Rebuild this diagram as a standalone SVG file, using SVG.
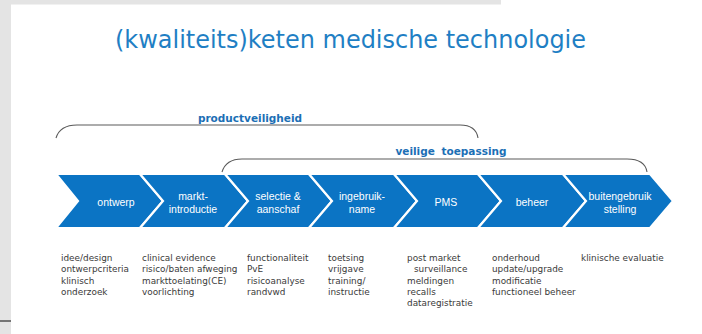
<svg xmlns="http://www.w3.org/2000/svg" width="702" height="334" viewBox="0 0 702 334">
<style>
.chev{fill:#0b74c4;stroke:#ffffff;stroke-width:2.2;stroke-linejoin:miter}
.lbl{font-family:"Liberation Sans",Arial,sans-serif;font-size:10.5px;fill:#ffffff;text-anchor:middle}
.note{font-family:"DejaVu Sans",Verdana,sans-serif;font-size:8.9px;fill:#3a3a3a}
.brk{fill:none;stroke:#5a5a5a;stroke-width:1.1}
.blbl{font-family:"DejaVu Sans",Verdana,sans-serif;font-size:10.5px;font-weight:bold;fill:#1c6fb5;text-anchor:middle}
</style>
<rect x="0" y="0" width="702" height="334" fill="#ffffff"/>
<rect x="0" y="0" width="11" height="334" fill="#e4e4e4"/>
<rect x="0" y="0" width="501" height="4.5" fill="#e4e4e4"/>
<line x1="0" y1="321" x2="11" y2="321" stroke="#505050" stroke-width="1.5"/>
<text x="115" y="48" textLength="471" lengthAdjust="spacingAndGlyphs" font-family="DejaVu Sans, Verdana, sans-serif" font-size="24" fill="#1f7fc4">(kwaliteits)keten medische technologie</text>
<g id="connectors">
<path class="brk" d="M56,138 Q60,125 77,125 L460,125 Q476,125 478,138"/>
<path class="brk" d="M222,172 Q226,159 242,159 L627,159 Q645,159 647,172"/>
</g>
<text class="blbl" x="250" y="121.5">productveiligheid</text>
<text class="blbl" x="451" y="155" word-spacing="3">veilige toepassing</text>
<g id="ontwerp">
<polygon class="chev" points="56,174 140,174 163,201 140,228 56,228 78,201"/>
<text class="lbl" x="116" y="205.5">ontwerp</text>
</g>
<g id="marktintroductie">
<polygon class="chev" points="140,174 225,174 248,201 225,228 140,228 163,201"/>
<text class="lbl" x="193" y="200">markt-</text>
<text class="lbl" x="193" y="213">introductie</text>
</g>
<g id="selectie">
<polygon class="chev" points="225,174 309,174 332,201 309,228 225,228 248,201"/>
<text class="lbl" x="278" y="200">selectie &amp;</text>
<text class="lbl" x="278" y="213">aanschaf</text>
</g>
<g id="ingebruikname">
<polygon class="chev" points="309,174 394,174 417,201 394,228 309,228 332,201"/>
<text class="lbl" x="362" y="200">ingebruik-</text>
<text class="lbl" x="362" y="213">name</text>
</g>
<g id="pms">
<polygon class="chev" points="394,174 478,174 501,201 478,228 394,228 417,201"/>
<text class="lbl" x="446" y="205.5">PMS</text>
</g>
<g id="beheer">
<polygon class="chev" points="478,174 563,174 586,201 563,228 478,228 501,201"/>
<text class="lbl" x="532" y="205.5">beheer</text>
</g>
<g id="buitengebruikstelling">
<polygon class="chev" points="563,174 650,174 673,201 650,228 563,228 586,201"/>
<text class="lbl" x="620" y="200">buitengebruik</text>
<text class="lbl" x="620" y="213">stelling</text>
</g>
<g id="notes">
<text class="note" x="61" y="261">idee/design</text>
<text class="note" x="61" y="272.3">ontwerpcriteria</text>
<text class="note" x="61" y="283.6">klinisch</text>
<text class="note" x="61" y="294.9">onderzoek</text>
<text class="note" x="142" y="261">clinical evidence</text>
<text class="note" x="142" y="272.3">risico/baten afweging</text>
<text class="note" x="142" y="283.6">markttoelating(CE)</text>
<text class="note" x="142" y="294.9">voorlichting</text>
<text class="note" x="247" y="261">functionaliteit</text>
<text class="note" x="247" y="272.3">PvE</text>
<text class="note" x="247" y="283.6">risicoanalyse</text>
<text class="note" x="247" y="294.9">randvwd</text>
<text class="note" x="328" y="261">toetsing</text>
<text class="note" x="328" y="272.3">vrijgave</text>
<text class="note" x="328" y="283.6">training/</text>
<text class="note" x="328" y="294.9">instructie</text>
<text class="note" x="407" y="261">post market</text>
<text class="note" x="414" y="272.3">surveillance</text>
<text class="note" x="407" y="283.6">meldingen</text>
<text class="note" x="407" y="294.9">recalls</text>
<text class="note" x="407" y="306.2">dataregistratie</text>
<text class="note" x="492" y="261">onderhoud</text>
<text class="note" x="492" y="272.3">update/upgrade</text>
<text class="note" x="492" y="283.6">modificatie</text>
<text class="note" x="492" y="294.9">functioneel beheer</text>
<text class="note" x="581" y="261">klinische evaluatie</text>
</g>
</svg>
